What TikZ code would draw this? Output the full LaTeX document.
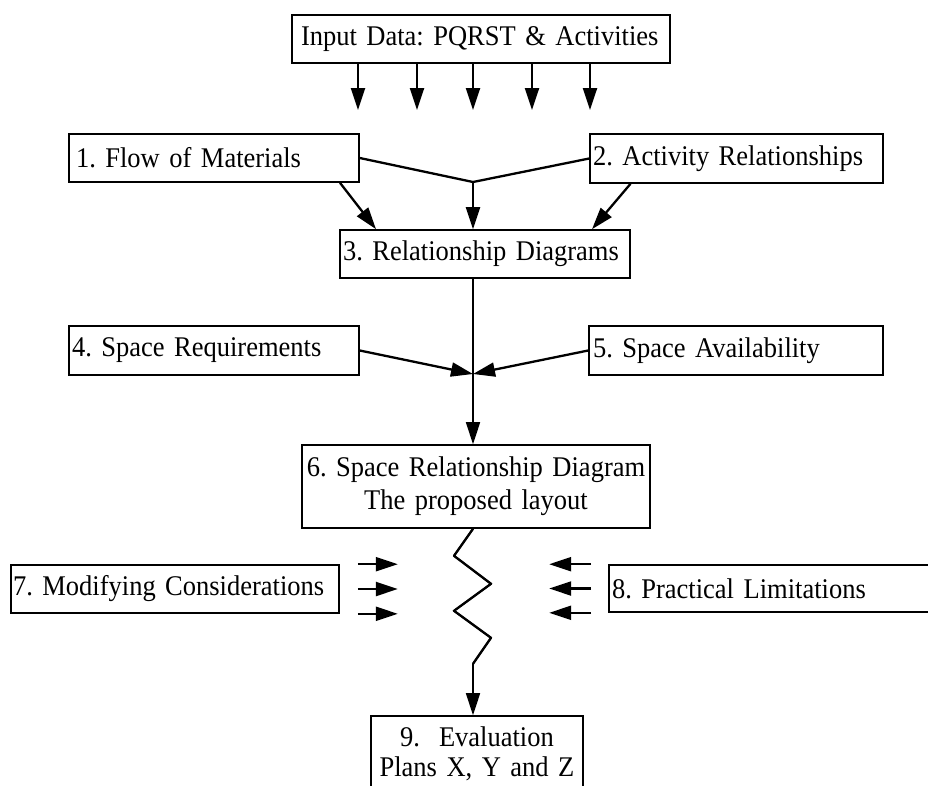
\documentclass[tikz,border=0pt]{standalone}
\usepackage{fontspec}
\setmainfont{Liberation Serif}[FakeStretch=0.93, WordSpace=0.85]
\usetikzlibrary{arrows.meta}
\newcommand\diagfont{\fontsize{28.5}{33}\selectfont\frenchspacing}
\begin{document}
\begin{tikzpicture}[x=1pt,y=-1pt,
  box/.style={draw, line width=1.6pt, font=\diagfont, inner ysep=0pt, align=left},
  link/.style={line width=2.3pt, line join=round},
  thinlink/.style={line width=1.7pt},
  head/.style={-{Triangle[length=22pt,width=14pt]}},
  arr/.style={link, head},
  thinarr/.style={thinlink, head},
  ]
\useasboundingbox (0,0) rectangle (928,785);

% boxes
\node[box, inner xsep=9pt, text width=360pt, minimum height=48pt] (input) at (481,39) {Input Data: PQRST \& Activities};
\node[box, inner xsep=7pt, text width=276pt, minimum height=48pt] (b1) at (214,158) {1. Flow of Materials};
\node[box, inner xsep=3pt, text width=287pt, minimum height=49pt] (b2) at (736.5,158.5) {2.\ Activity Relationships};
\node[box, inner xsep=3pt, text width=284pt, minimum height=48pt] (b3) at (485,254) {3. Relationship Diagrams};
\node[box, inner xsep=3pt, text width=284pt, minimum height=49pt] (b4) at (214,350.5) {4. Space Requirements};
\node[box, inner xsep=4pt, text width=286pt, minimum height=49pt] (b5) at (736,350.5) {5. Space Availability};
\node[box, inner xsep=3pt, text width=342pt, minimum height=83pt, align=center] (b6) at (476,486.5) {6. Space Relationship Diagram\\The proposed layout};
\node[box, inner xsep=2pt, text width=324pt, minimum height=48pt] (b7) at (175,589) {7. Modifying Considerations};
\node[box, inner xsep=3pt, text width=325pt, minimum height=47pt] (b8) at (774.5,588.5) {8. Practical Limitations};
\node[box, inner xsep=3pt, text width=206pt, minimum height=76pt, align=center, font=\fontsize{28.5}{30}\selectfont\frenchspacing] (b9) at (477,754) {9.\ \ Evaluation\\Plans X, Y and Z};

% the five input arrows
\coordinate (t1) at (358,110);
\coordinate (t2) at (417,110);
\coordinate (t3) at (473,110);
\coordinate (t4) at (532,110);
\coordinate (t5) at (590,110);
\foreach \t in {t1,t2,t3,t4,t5}
  \draw[arr] (input.south -| \t) -- (\t);

% merging flows into the relationship diagrams
\coordinate (j1) at (473,182);
\coordinate (j2) at (473,374);
\draw[link] (b1.east) -- (j1) -- (b2.west);
\draw[arr] (j1) -- (b3.north -| j1);
\draw[arr] ([xshift=126pt]b1.south) -- ([xshift=-109pt]b3.north);
\draw[arr] ([xshift=-106pt]b2.south) -- ([xshift=107pt]b3.north);

% space requirements and availability
\draw[thinlink] (b3.south -| j2) -- (j2);
\draw[thinarr] (j2) -- (b6.north -| j2);
\draw[arr] (b4.east) -- (j2);
\draw[arr] (b5.west) -- (j2);

% zigzag towards the evaluation
\draw[thinarr] (b6.south -| j2) -- ++(-19,27) -- ++(37,28) -- ++(-37,27)
  -- ++(37,27) -- ++(-18,26) -- (b9.north -| j2);
\draw[link] (b6.south -| j2) -- ++(-19,27) -- ++(37,28) -- ++(-37,27) -- ++(37,27) -- ++(-18,26);

% modifying considerations and practical limitations
\foreach \a in {north east, east, south east}
  \draw[arr] ([xshift=18pt]b7.\a) -- ++(40,0);
\foreach \a in {north west, west, south west}
  \draw[arr] ([xshift=-17pt]b8.\a) -- ++(-42,0);
\end{tikzpicture}
\end{document}
